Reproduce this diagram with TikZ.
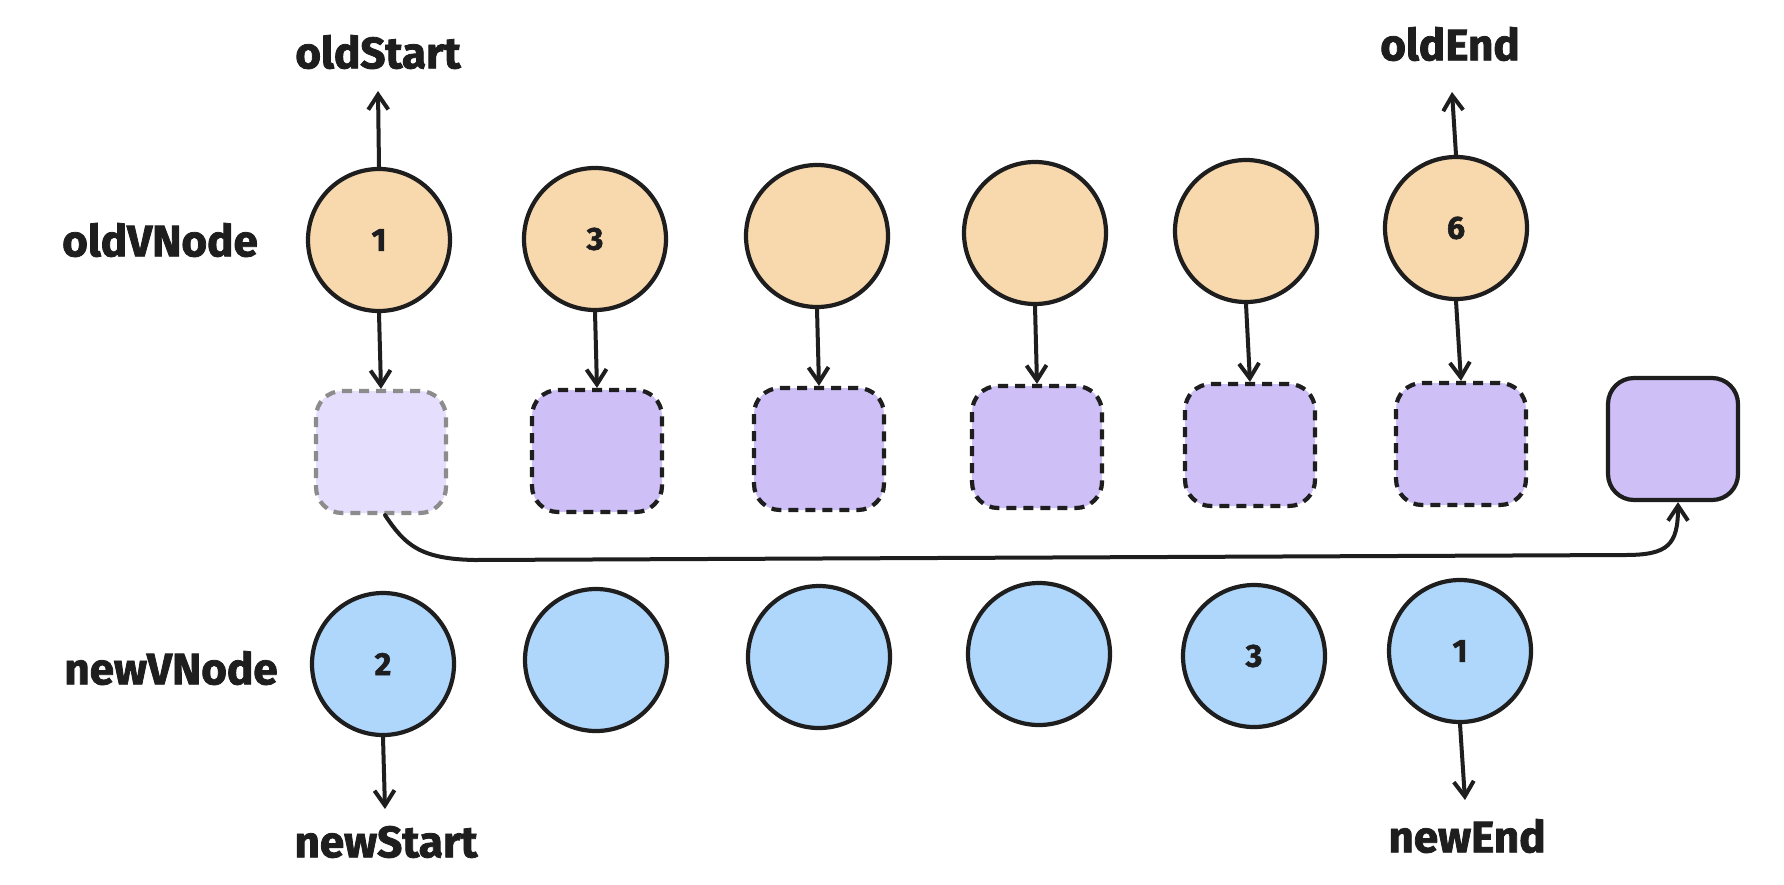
\documentclass[tikz,border=0pt]{standalone}
\usepackage{fontspec}
\newfontfamily\hand{Fira Sans}[BoldFeatures={FakeBold=1.8}]
\usetikzlibrary{arrows.meta}
\definecolor{ink}{HTML}{1E1E1E}
\definecolor{oldfill}{HTML}{F8D9AE}
\definecolor{newfill}{HTML}{AFD6FB}
\definecolor{boxfill}{HTML}{CEC0F7}
\definecolor{fadefill}{HTML}{E5DEFD}
\definecolor{fadeline}{HTML}{8C8C8C}
\tikzset{
  every node/.style={text=ink},
  lab/.style={font=\hand\bfseries\fontsize{44}{48}\selectfont},
  num/.style={font=\hand\bfseries\fontsize{32}{35}\selectfont},
  oc/.style={circle, draw=ink, line width=4.2pt, fill=oldfill, minimum size=142pt, inner sep=0pt, num},
  nc/.style={circle, draw=ink, line width=4.2pt, fill=newfill, minimum size=142pt, inner sep=0pt, num},
  sq/.style={rectangle, rounded corners=26pt, draw=ink, line width=4.2pt, fill=boxfill, minimum width=130pt, minimum height=122pt, inner sep=0pt},
  dsq/.style={sq, dash pattern=on 10pt off 7pt},
  fsq/.style={sq, draw=fadeline, fill=fadefill, dash pattern=on 10pt off 7pt},
  arr/.style={draw=ink, line width=4pt, line cap=round, -{Straight Barb[length=15pt,width=20pt,line width=4pt]}},
}
\begin{document}
\begin{tikzpicture}[x=1pt,y=-1pt]
\useasboundingbox[fill=white] (0,0) rectangle (1784,884);
% row labels
\node[lab] (lold) at (160,240) {oldVNode};
\node[lab] (lnew) at (171,668) {newVNode};
% old vnodes
\node[oc] (o1) at (379,240) {1};
\node[oc] (o2) at (595,239) {3};
\node[oc] (o3) at (817,236) {};
\node[oc] (o4) at (1035,233) {};
\node[oc] (o5) at (1246,231) {};
\node[oc] (o6) at (1456,228) {6};
% boxes
\node[fsq] (s1) at (381,452) {};
\node[dsq] (s2) at (597,451) {};
\node[dsq] (s3) at (819,449) {};
\node[dsq] (s4) at (1037,447) {};
\node[dsq] (s5) at (1250,445) {};
\node[dsq] (s6) at (1461,444) {};
\node[sq]  (s7) at (1673,439) {};
% new vnodes
\node[nc] (n1) at (383,664) {2};
\node[nc] (n2) at (596,660) {};
\node[nc] (n3) at (819,657) {};
\node[nc] (n4) at (1039,654) {};
\node[nc] (n5) at (1254,656) {3};
\node[nc] (n6) at (1460,651) {1};
% pointer labels
\node[lab] (ls) at (378,52) {oldStart};
\node[lab] (le) at (1450,44) {oldEnd};
\node[lab] (ns) at (386,842) {newStart};
\node[lab] (ne) at (1467,836) {newEnd};
\coordinate (cs) at (378,91);
\coordinate (ce) at (1452,92);
\coordinate (cns) at (385,809);
\coordinate (cne) at (1465,800);
\draw[arr] (o1.north) -- (cs);
\draw[arr] (o6.north) -- (ce);
\draw[arr] (n1.south) -- (cns);
\draw[arr] (n6.south) -- (cne);
% old -> box arrows
\draw[arr] (o1.south) -- (s1.north);
\draw[arr] (o2.south) -- (s2.north);
\draw[arr] (o3.south) -- (s3.north);
\draw[arr] (o4.south) -- (s4.north);
\draw[arr] (o5.south) -- (s5.north);
\draw[arr] (o6.south) -- (s6.north);
% move curve
\draw[arr] ([xshift=4pt]s1.south) .. controls (405,545) and (420,559) .. (475,560)
  -- (1625,555) .. controls (1668,555) and (1678,545) .. ([xshift=5pt]s7.south);
\end{tikzpicture}
\end{document}
